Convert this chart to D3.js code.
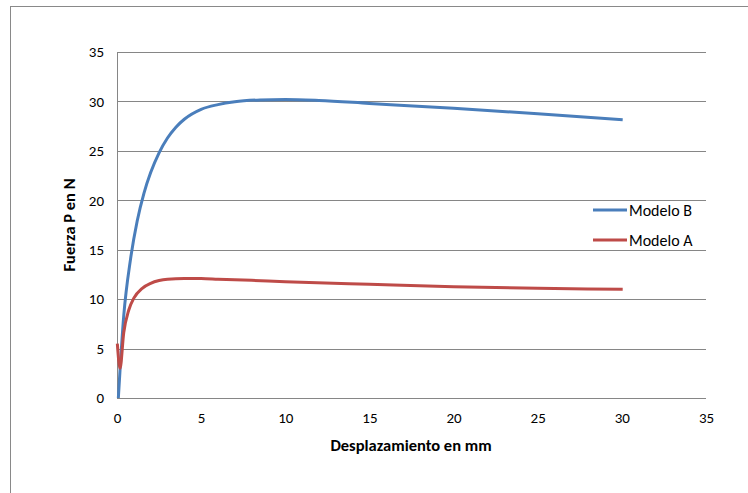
<!DOCTYPE html>
<html>
<head>
<meta charset="utf-8">
<script src="https://cdn.jsdelivr.net/npm/d3@7"></script>
<style>
  body { margin: 0; background: #fff; }
  text { font-family: Carlito, Lato, "Open Sans", sans-serif; fill: #000; }
</style>
</head>
<body>
<div id="chart"></div>
<script>
// Modelo B (blue) - displacement mm / force N
const modeloBX = [0.08, 0.4, 0.8, 1.2, 1.6, 2.0, 2.5, 3.0, 3.5, 4.0, 5.0, 6.0, 7.0, 8.5, 10, 12, 15, 20, 25, 30.05];
const modeloBY = [0, 8.3, 14.0, 17.9, 20.7, 22.8, 24.8, 26.3, 27.4, 28.2, 29.2, 29.68, 29.97, 30.15, 30.2, 30.1, 29.8, 29.3, 28.75, 28.15];

// Modelo A (red)
const modeloAX = [0.02, 0.18, 0.4, 0.7, 1.0, 1.5, 2.0, 2.5, 3.0, 4.0, 5, 6, 8, 10, 15, 20, 25, 30.05];
const modeloAY = [5.5, 3.0, 6.6, 8.9, 10.1, 11.1, 11.6, 11.88, 12.02, 12.1, 12.08, 12.02, 11.9, 11.77, 11.5, 11.25, 11.1, 11.0];

const xTicks = [0, 5, 10, 15, 20, 25, 30, 35];
const yTicks = [0, 5, 10, 15, 20, 25, 30, 35];

const seriesNames = ["Modelo B", "Modelo A"];
const seriesColors = ["#4a7ebb", "#be4b48"];

const width = 748, height = 493;

let svg = d3.select("#chart").append("svg")
    .attr("width", width)
    .attr("height", height);

// outer chart border (cut off on right and bottom like the original)
svg.append("rect")
    .attr("x", 10.5).attr("y", 6.5)
    .attr("width", 760).attr("height", 520)
    .attr("fill", "none")
    .attr("stroke", "#898989")
    .attr("stroke-width", 1);

let x = d3.scaleLinear().domain([0, 35]).range([117, 706]);
let y = d3.scaleLinear().domain([0, 35]).range([398, 52]);

// gridlines
svg.append("g")
    .selectAll("line")
    .data(yTicks)
    .enter()
    .append("line")
    .attr("x1", x(0)).attr("x2", x(35))
    .attr("y1", d => Math.round(y(d)) + 0.5)
    .attr("y2", d => Math.round(y(d)) + 0.5)
    .attr("stroke", "#868686")
    .attr("stroke-width", 1);

// y axis line
svg.append("line")
    .attr("x1", Math.round(x(0)) + 0.5).attr("x2", Math.round(x(0)) + 0.5)
    .attr("y1", y(35)).attr("y2", y(0))
    .attr("stroke", "#868686");

// tick labels
let yAxis = d3.axisLeft(y).tickValues(yTicks).tickSize(0).tickPadding(13);
let xAxis = d3.axisBottom(x).tickValues(xTicks).tickSize(0).tickPadding(14);

svg.append("g")
    .attr("transform", "translate(" + x(0) + ",0)")
    .call(yAxis)
    .call(g => g.select(".domain").remove())
    .selectAll("text")
    .style("font-size", "15px");

svg.append("g")
    .attr("transform", "translate(0," + y(0) + ")")
    .call(xAxis)
    .call(g => g.select(".domain").remove())
    .selectAll("text")
    .style("font-size", "15px");

// axis titles
svg.append("text")
    .attr("x", 411).attr("y", 451)
    .attr("text-anchor", "middle")
    .style("font-size", "16.5px")
    .style("font-weight", "bold")
    .text("Desplazamiento en mm");

svg.append("text")
    .attr("transform", "translate(75,225) rotate(-90)")
    .attr("text-anchor", "middle")
    .style("font-size", "16.5px")
    .style("font-weight", "bold")
    .text("Fuerza P en N");

// lines
let line = d3.line()
    .x(d => x(d[0]))
    .y(d => y(d[1]))
    .curve(d3.curveMonotoneX);

let seriesData = [
    d3.zip(modeloBX, modeloBY),
    d3.zip(modeloAX, modeloAY)
];

svg.append("g")
    .selectAll("path")
    .data(seriesData)
    .enter()
    .append("path")
    .attr("d", line)
    .attr("fill", "none")
    .attr("stroke", (d, i) => seriesColors[i])
    .attr("stroke-width", 3)
    .attr("stroke-linejoin", "round");

// legend
let legend = svg.append("g")
    .selectAll("g")
    .data(seriesNames)
    .enter()
    .append("g")
    .attr("transform", (d, i) => "translate(593," + (210 + i * 30) + ")");

legend.append("line")
    .attr("x1", 0).attr("x2", 34)
    .attr("stroke", (d, i) => seriesColors[i])
    .attr("stroke-width", 3);

legend.append("text")
    .attr("x", 36).attr("y", 5.5)
    .style("font-size", "16px")
    .text(d => d);
</script>
</body>
</html>
